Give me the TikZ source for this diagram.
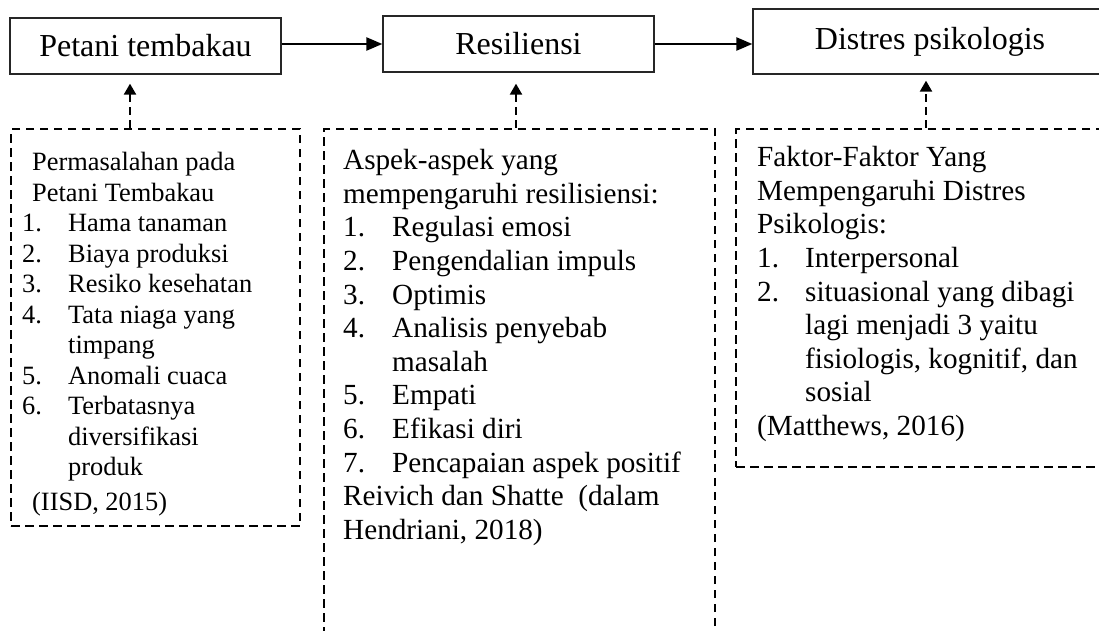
\documentclass[tikz,border=0pt]{standalone}
\usepackage{fontspec}
\setmainfont{Liberation Serif}
\usetikzlibrary{arrows.meta}
\begin{document}
\begin{tikzpicture}[x=1pt,y=-1pt,
  solidbox/.style={draw=black!85, line width=1.3pt, inner sep=0pt, font=\fontsize{32}{38}\selectfont},
  dbox/.style={draw=black, line width=2.2pt, dash pattern=on 8.5pt off 5.5pt, anchor=north west, inner sep=0pt},
  mainarrow/.style={line width=2.4pt, -{Triangle[length=16pt,width=13pt]}},
  dasharrow/.style={line width=2.2pt, dash pattern=on 8pt off 5pt, -{Triangle[length=11pt,width=12pt]}},
  txt/.style={anchor=north west, inner sep=0pt, align=left}
]
\useasboundingbox[fill=white] (0,0) rectangle (1099,631);

% top boxes
\node[solidbox, minimum width=271pt, minimum height=56pt] (b1) at (145.5,46) {Petani tembakau};
\node[solidbox, minimum width=271pt, minimum height=56pt] (b2) at (518.5,44) {Resiliensi};
\node[solidbox, minimum width=354pt, minimum height=65pt] (b3) at (930,41.5) {Distres psikologis};

\draw[mainarrow] (b1.east |- b2.west) -- (b2.west);
\draw[mainarrow] (b2.east) -- (b2.east -| b3.west);

% dashed boxes
\node[dbox, minimum width=289pt, minimum height=397pt] (d1) at (10,128) {};
\node[dbox, minimum width=391pt, minimum height=540pt] (d2) at (323,128) {};
\node[dbox, minimum width=400pt, minimum height=338pt] (d3) at (735,128) {};

% dashed connectors
\coordinate (a1) at (130,0);
\coordinate (a2) at (516,0);
\coordinate (a3) at (926,0);
\draw[dasharrow, shorten >=9pt] (a1 |- d1.north) -- (a1 |- b1.south);
\draw[dasharrow, shorten >=11pt] (a2 |- d2.north) -- (a2 |- b2.south);
\draw[dasharrow, shorten >=6pt] (a3 |- d3.north) -- (a3 |- b3.south);

% texts
\node[txt] (t1) at (22,149.4) {\fontsize{26.4}{30.5}\selectfont
\begin{tabular}{@{}p{46pt}@{}l@{}}
\multicolumn{2}{@{\hspace{10pt}}l@{}}{Permasalahan pada}\\
\multicolumn{2}{@{\hspace{10pt}}l@{}}{Petani Tembakau}\\
1. & Hama tanaman\\
2. & Biaya produksi\\
3. & Resiko kesehatan\\
4. & Tata niaga yang\\
   & timpang\\
5. & Anomali cuaca\\
6. & Terbatasnya\\
   & diversifikasi\\
   & produk\\[4pt]
\multicolumn{2}{@{\hspace{10pt}}l@{}}{(IISD, 2015)}
\end{tabular}};

\node[txt] (t2) at (343,146) {\fontsize{29.2}{33.6}\selectfont
\begin{tabular}{@{}p{49pt}@{}l@{}}
\multicolumn{2}{@{}l@{}}{Aspek-aspek yang}\\
\multicolumn{2}{@{}l@{}}{mempengaruhi resilisiensi:}\\
1. & Regulasi emosi\\
2. & Pengendalian impuls\\
3. & Optimis\\
4. & Analisis penyebab\\
   & masalah\\
5. & Empati\\
6. & Efikasi diri\\
7. & Pencapaian aspek positif\\
\multicolumn{2}{@{}l@{}}{Reivich dan Shatte\ \ (dalam}\\
\multicolumn{2}{@{}l@{}}{Hendriani, 2018)}
\end{tabular}};

\node[txt] (t3) at (757,143) {\fontsize{29.2}{33.6}\selectfont
\begin{tabular}{@{}p{48pt}@{}l@{}}
\multicolumn{2}{@{}l@{}}{Faktor-Faktor Yang}\\
\multicolumn{2}{@{}l@{}}{Mempengaruhi Distres}\\
\multicolumn{2}{@{}l@{}}{Psikologis:}\\
1. & Interpersonal\\
2. & situasional yang dibagi\\
   & lagi menjadi 3 yaitu\\
   & fisiologis, kognitif, dan\\
   & sosial\\
\multicolumn{2}{@{}l@{}}{(Matthews, 2016)}
\end{tabular}};
\end{tikzpicture}
\end{document}
